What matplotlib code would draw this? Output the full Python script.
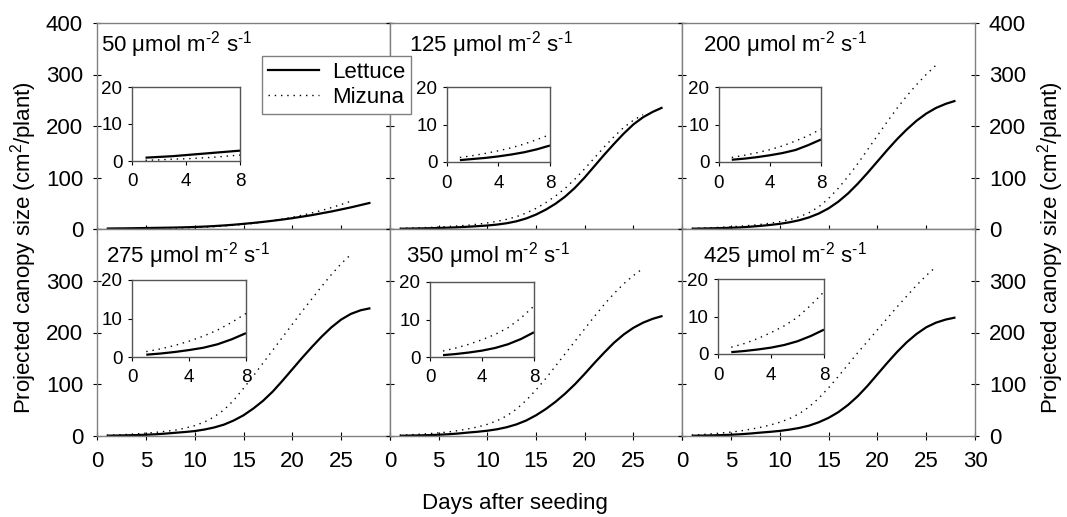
import matplotlib
matplotlib.use("Agg")
import matplotlib.pyplot as plt

plt.rcParams['font.family'] = ['Liberation Sans', 'DejaVu Sans']
plt.rcParams['mathtext.fontset'] = 'custom'
plt.rcParams['mathtext.rm'] = 'Liberation Sans'
plt.rcParams['mathtext.it'] = 'Liberation Sans:italic'

# ---- data ----
ppfd = [50, 125, 200, 275, 350, 425]
days_lettuce = list(range(1, 29))
days_mizuna = list(range(1, 27))

lettuce_50 = [0.9, 1.1, 1.3, 1.6, 1.9, 2.2, 2.5, 2.8, 3.3, 3.9, 4.7, 5.7, 6.9, 8.3,
              10, 11.8, 13.8, 16, 18.4, 21, 24, 27, 30.5, 34, 38, 42, 46.5, 51]
mizuna_50 = [0.2, 0.3, 0.5, 0.6, 0.8, 1.0, 1.3, 1.6, 2.1, 2.8, 3.6, 4.6, 5.8, 7.2,
             8.9, 10.9, 13.3, 16, 19.2, 22.8, 26.8, 31.2, 36, 41.5, 47.5, 54]
lettuce_125 = [0.5, 0.8, 1.1, 1.5, 2.0, 2.6, 3.4, 4.4, 5.5, 6.8, 8.6, 11.2, 15, 20.5,
               28, 37.5, 49, 63, 80, 100, 122, 144, 165, 185, 203, 217, 227.5, 236]
mizuna_125 = [1.2, 1.7, 2.3, 3.0, 3.8, 4.8, 6.0, 7.3, 9.3, 11.8, 14.9, 18.8, 24, 31,
              40, 51, 64, 79, 97, 117, 138, 159, 179, 197, 211, 222]
lettuce_200 = [0.6, 0.9, 1.3, 1.8, 2.4, 3.2, 4.5, 6.0, 7.8, 10, 13, 17, 22.5, 30,
               40, 53, 69, 88, 109, 131, 153, 174, 193, 210, 224, 235, 243, 249]
mizuna_200 = [1.2, 1.8, 2.5, 3.3, 4.3, 5.6, 7.0, 8.8, 11.2, 14.2, 18.2, 23.7, 31.5, 43,
              59, 79, 102, 127, 154, 181, 208, 234, 258, 280, 300, 318]
lettuce_275 = [0.6, 0.9, 1.3, 1.8, 2.4, 3.3, 4.6, 6.2, 7.7, 9.5, 12.5, 16.5, 22, 30,
               40, 53, 68, 86, 107, 129, 151, 172, 192, 210, 225, 236, 243, 247]
mizuna_275 = [1.4, 2.1, 3.0, 4.1, 5.4, 7.0, 9.0, 11.3, 15, 20, 27, 37, 50.5, 69,
              92, 116, 141, 166, 191, 216, 241, 265, 289, 312, 333, 351]
lettuce_350 = [0.5, 0.8, 1.2, 1.7, 2.4, 3.4, 4.8, 6.6, 8.2, 10.2, 13, 17, 22.5, 30,
               40, 52, 66, 82, 100, 120, 141, 161, 180, 196, 209, 219, 226.5, 232]
mizuna_350 = [1.6, 2.4, 3.4, 4.6, 6.0, 7.8, 10.4, 13.6, 17.5, 22.5, 29.5, 39, 52, 69,
              89, 111, 135, 159, 183, 207, 231, 254, 275, 294, 310, 324]
lettuce_425 = [0.5, 0.8, 1.2, 1.7, 2.4, 3.4, 4.8, 6.5, 8.0, 9.8, 12.3, 15.5, 20, 26.5,
               35, 46, 60, 77, 97, 119, 141, 162, 181, 197, 210, 219, 225, 229]
mizuna_425 = [1.8, 2.8, 4.1, 5.7, 7.5, 9.8, 13, 16.6, 21, 26.5, 33.5, 43, 56, 73,
              93, 115, 138, 161, 183, 205, 227, 249, 270, 291, 310, 327]

lettuce = [lettuce_50, lettuce_125, lettuce_200, lettuce_275, lettuce_350, lettuce_425]
mizuna = [mizuna_50, mizuna_125, mizuna_200, mizuna_275, mizuna_350, mizuna_425]

# ---- layout (pixels of the 1067x517 image) ----
W, H = 1067, 517
col_x = [97, 390, 682, 975]
row_y = [23, 229, 436]
inset_px = [(132, 87, 240, 161), (447, 87, 550, 162), (719, 87, 821, 162),
            (132, 280, 246, 357), (430, 282, 534, 357), (718, 279, 824, 354)]
title_x = [0.012, 0.066, 0.070, 0.032, 0.056, 0.070]
title_y = [0.86, 0.86, 0.86, 0.836, 0.836, 0.836]


def box(x0, y0, x1, y1):
    return [x0 / W, 1 - y1 / H, (x1 - x0) / W, (y1 - y0) / H]


frame = '#808080'
dots = (0, (1, 3.5))
fs = 16

fig = plt.figure(figsize=(W / 100, H / 100), dpi=100)

for i in range(6):
    r, c = divmod(i, 3)
    ax = fig.add_axes(box(col_x[c], row_y[r], col_x[c + 1], row_y[r + 1]))
    ax.plot(days_lettuce, lettuce[i], color='k', lw=1.6, solid_capstyle='butt')
    ax.plot(days_mizuna, mizuna[i], color='k', lw=1.0, linestyle=dots)
    ax.set_xlim(0, 30)
    ax.set_ylim(0, 400)
    for s in ax.spines.values():
        s.set_color(frame)
        s.set_linewidth(1.0)
    ax.set_xticks(range(0, 31, 5))
    ax.set_yticks(range(0, 401, 100))
    ax.tick_params(direction='inout', length=6, width=0.8, color='k',
                   labelsize=fs, left=True, right=True, pad=7)
    ax.tick_params(axis='x', pad=8)
    if r == 0:
        ax.set_xticklabels([])
        ylabs = ['0', '100', '200', '300', '400']
    else:
        xl = [str(v) for v in range(0, 31, 5)]
        if c < 2:
            xl[-1] = ''
        ax.set_xticklabels(xl)
        ylabs = ['0', '100', '200', '300', '']
    ax.set_yticklabels(ylabs)
    ax.tick_params(axis='y', labelleft=(c == 0), labelright=(c == 2))
    ax.text(title_x[i], title_y[i],
            f"{ppfd[i]} \u03bcmol m$^{{\\text{{-2}}}}$ s$^{{\\text{{-1}}}}$",
            transform=ax.transAxes, fontsize=fs, va='baseline', ha='left')

    # inset with the first 8 days
    ins = fig.add_axes(box(*inset_px[i]))
    ins.plot(days_lettuce[:8], lettuce[i][:8], color='k', lw=1.6, solid_capstyle='butt')
    ins.plot(days_mizuna[:8], mizuna[i][:8], color='k', lw=1.0, linestyle=dots)
    ins.set_xlim(0, 8)
    ins.set_ylim(0, 20)
    ins.set_xticks([0, 4, 8])
    ins.set_yticks([0, 10, 20])
    ins.tick_params(direction='out', length=3, width=0.8, labelsize=13.5)
    ins.tick_params(axis='x', pad=6)
    ins.tick_params(axis='y', pad=4)
    for s in ins.spines.values():
        s.set_color('#555555')
        s.set_linewidth(1.0)

# legend
h1, = plt.plot([], [], color='k', lw=1.6)
h2, = plt.plot([], [], color='k', lw=1.0, linestyle=dots)
leg = fig.legend([h1, h2], ['Lettuce', 'Mizuna'], loc='upper left',
                 bbox_to_anchor=(262 / W, 1 - 56 / H), borderaxespad=0,
                 fontsize=fs, handlelength=2.3, labelspacing=0.2,
                 borderpad=0.25, handletextpad=0.6, fancybox=False,
                 framealpha=1, edgecolor=frame)
leg.get_frame().set_linewidth(1.0)

ylab = "Projected canopy size (cm$^{2}$/plant)"
fig.text(24 / W, 1 - 248 / H, ylab, rotation=90, fontsize=fs, ha='center', va='center')
fig.text(1051 / W, 1 - 248 / H, ylab, rotation=90, fontsize=fs, ha='center', va='center')
fig.text(515 / W, 1 - 504 / H, "Days after seeding", fontsize=fs, ha='center', va='center')

fig.savefig('out.png', dpi=100)
